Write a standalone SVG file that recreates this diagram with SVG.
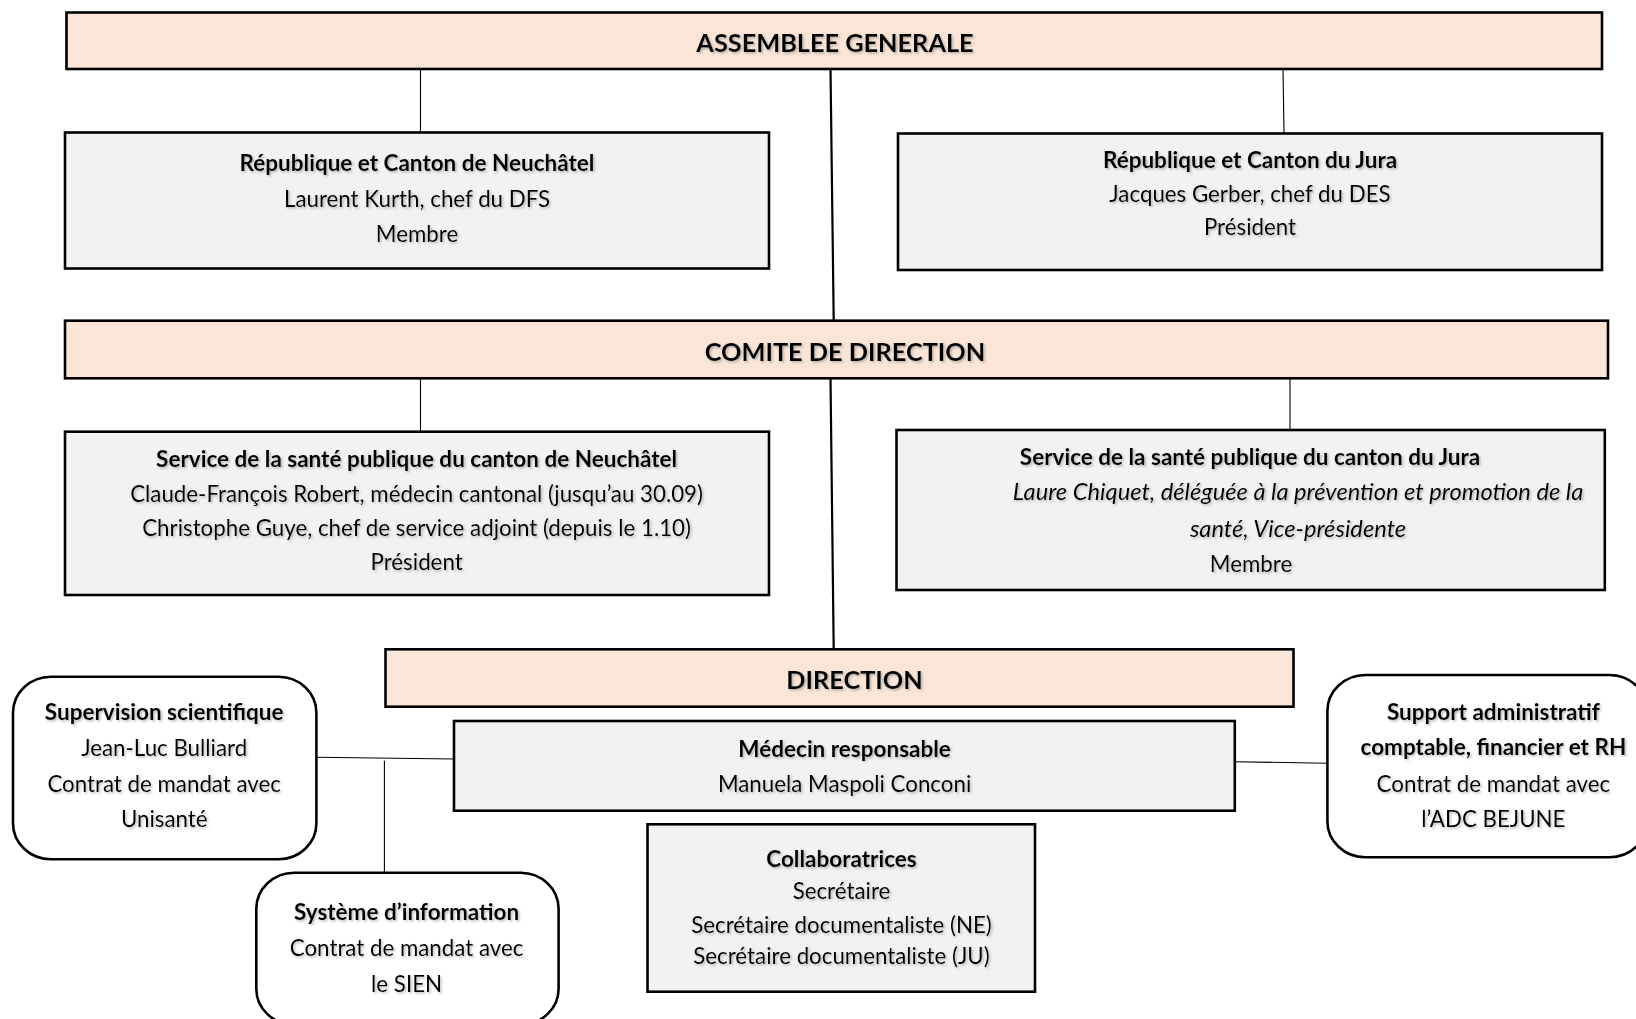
<svg xmlns="http://www.w3.org/2000/svg" width="1636" height="1019" viewBox="0 0 1636 1019">
<defs>
<filter id="sh" x="-5%" y="-20%" width="110%" height="150%">
<feDropShadow dx="1.5" dy="1.5" stdDeviation="0.8" flood-color="#7f7f7f" flood-opacity="0.55"/>
</filter>
</defs>
<style>
.band{fill:#FBE5D6;stroke:#000;stroke-width:2.6}
.box{fill:#F2F2F2;stroke:#000;stroke-width:2.6}
.rbox{fill:#FFFFFF;stroke:#000;stroke-width:2.6}
.thin{stroke:#000;stroke-width:1.1;fill:none}
.main{stroke:#000;stroke-width:2.2;fill:none}
text{font-family:Lato,"Liberation Sans",sans-serif;fill:#000;text-anchor:middle;filter:url(#sh)}
.t{font-size:25.3px;font-weight:bold}
.b{font-size:22.5px;font-weight:bold}
.r{font-size:22.3px}
.i{font-size:23.7px;font-style:italic}
</style>
<rect width="1636" height="1019" fill="#FFFFFF"/>
<g id="connectors">
<line class="thin" x1="420.5" y1="69" x2="420.5" y2="132"/>
<line class="thin" x1="1283" y1="69" x2="1284" y2="133"/>
<line class="main" x1="830.5" y1="69" x2="833.7" y2="320"/>
<line class="thin" x1="420.5" y1="378" x2="420.5" y2="432"/>
<line class="thin" x1="1290" y1="378" x2="1290" y2="430"/>
<line class="main" x1="830.5" y1="378" x2="833.7" y2="649"/>
<line class="thin" x1="316.4" y1="757.3" x2="454" y2="759"/>
<line class="thin" x1="384.4" y1="760.7" x2="384.4" y2="872.7"/>
<line class="thin" x1="1234.8" y1="761.7" x2="1327.4" y2="763.3"/>
</g>
<g id="assemblee-generale">
<rect class="band" x="66.5" y="12.5" width="1535.5" height="56.5"/>
<text class="t" x="835" y="51.5">ASSEMBLEE GENERALE</text>
</g>
<g id="canton-neuchatel">
<rect class="box" x="65" y="132.5" width="704" height="136"/>
<text class="b" x="417" y="170.7">République et Canton de Neuchâtel</text>
<text class="r" x="417" y="206.7">Laurent Kurth, chef du DFS</text>
<text class="r" x="417" y="241.7">Membre</text>
</g>
<g id="canton-jura">
<rect class="box" x="898" y="133.5" width="704" height="136.5"/>
<text class="b" x="1250" y="168.3">République et Canton du Jura</text>
<text class="r" x="1250" y="201.7">Jacques Gerber, chef du DES</text>
<text class="r" x="1250" y="235">Président</text>
</g>
<g id="comite-de-direction">
<rect class="band" x="65" y="320.7" width="1543" height="57.6"/>
<text class="t" x="845" y="360.5">COMITE DE DIRECTION</text>
</g>
<g id="sante-neuchatel">
<rect class="box" x="65" y="431.7" width="704" height="163.3"/>
<text class="b" x="416.6" y="466.7">Service de la santé publique du canton de Neuchâtel</text>
<text class="r" x="416.6" y="502.3">Claude-François Robert, médecin cantonal (jusqu’au 30.09)</text>
<text class="r" x="416.6" y="535.7">Christophe Guye, chef de service adjoint (depuis le 1.10)</text>
<text class="r" x="416.6" y="570">Président</text>
</g>
<g id="sante-jura">
<rect class="box" x="896.5" y="430" width="708.3" height="160"/>
<text class="b" x="1250" y="465">Service de la santé publique du canton du Jura</text>
<text class="i" x="1298" y="500">Laure Chiquet, déléguée à la prévention et promotion de la</text>
<text class="i" x="1298" y="536.7">santé, Vice-présidente</text>
<text class="r" x="1251" y="571.7">Membre</text>
</g>
<g id="direction">
<rect class="band" x="385.5" y="649.3" width="908" height="57.4"/>
<text class="t" x="854.5" y="689">DIRECTION</text>
</g>
<g id="medecin-responsable">
<rect class="box" x="454" y="721" width="780.8" height="89.7"/>
<text class="b" x="844.6" y="756.7">Médecin responsable</text>
<text class="r" x="844.6" y="791.7">Manuela Maspoli Conconi</text>
</g>
<g id="collaboratrices">
<rect class="box" x="647.5" y="824.3" width="387.5" height="167.4"/>
<text class="b" x="841.5" y="866.7">Collaboratrices</text>
<text class="r" x="841.5" y="899.3">Secrétaire</text>
<text class="r" x="841.5" y="932.7">Secrétaire documentaliste (NE)</text>
<text class="r" x="841.5" y="964">Secrétaire documentaliste (JU)</text>
</g>
<g id="supervision-scientifique">
<rect class="rbox" x="13" y="676.7" width="303.4" height="182.6" rx="38" ry="36"/>
<text class="b" x="164.2" y="720">Supervision scientifique</text>
<text class="r" x="164.2" y="756">Jean-Luc Bulliard</text>
<text class="r" x="164.2" y="791.7">Contrat de mandat avec</text>
<text class="r" x="164.2" y="827.3">Unisanté</text>
</g>
<g id="systeme-information">
<rect class="rbox" x="256.3" y="872.7" width="302.3" height="152" rx="38" ry="36"/>
<text class="b" x="406.6" y="920">Système d’information</text>
<text class="r" x="406.6" y="956">Contrat de mandat avec</text>
<text class="r" x="406.6" y="991.7">le SIEN</text>
</g>
<g id="support-administratif">
<rect class="rbox" x="1327.4" y="675" width="320" height="182.3" rx="38" ry="36"/>
<text class="b" x="1493.4" y="720">Support administratif</text>
<text class="b" x="1493.4" y="755">comptable, financier et RH</text>
<text class="r" x="1493.4" y="791.7">Contrat de mandat avec</text>
<text class="r" x="1493.4" y="826.7">l’ADC BEJUNE</text>
</g>
</svg>
